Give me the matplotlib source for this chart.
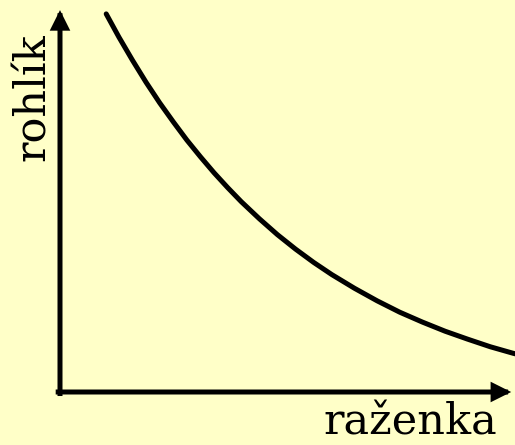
import matplotlib
matplotlib.use("Agg")
import matplotlib.pyplot as plt

# Data
curve_x = [1.02, 1.3, 1.6, 1.9, 2.2, 2.5, 2.8, 3.1, 3.4, 3.7, 4.0, 4.4, 4.8,
           5.2, 5.6, 6.0, 6.5, 7.0, 7.5, 8.0, 8.5, 9.0, 9.5, 10.0, 10.4]
curve_y = [9.95, 9.34, 8.73, 8.15, 7.61, 7.11, 6.63, 6.19, 5.77, 5.38, 5.01,
           4.56, 4.14, 3.76, 3.41, 3.09, 2.73, 2.40, 2.10, 1.84, 1.60, 1.39,
           1.19, 1.02, 0.90]
x_label = "raženka"
y_label = "rohlík"
axis_x_end = 9.96
axis_y_end = 10.05

bg = "#FFFFC8"
fig = plt.figure(figsize=(5.15, 4.45), dpi=100, facecolor=bg)
ax = fig.add_axes([0, 0, 1, 1])
ax.set_facecolor(bg)
ax.set_xlim(-60 / 45.3, 455 / 45.3)
ax.set_ylim(-53 / 38.0, 392 / 38.0)
ax.axis("off")

lw = 3.6
arrow = dict(arrowstyle="-|>,head_length=0.6,head_width=0.3",
             mutation_scale=15, lw=lw, color="black",
             shrinkA=0, shrinkB=0, capstyle="projecting", joinstyle="miter")
ax.annotate("", xy=(axis_x_end, 0), xytext=(-0.04, 0), arrowprops=arrow)
ax.annotate("", xy=(0, axis_y_end), xytext=(0, -0.04), arrowprops=arrow)

ax.plot(curve_x, curve_y, color="black", lw=lw, solid_capstyle="round",
        solid_joinstyle="round")

ax.text(9.65, -1.13, x_label, fontsize=31, family="DejaVu Serif",
        ha="right", va="baseline")
ax.text(-0.33, 7.76, y_label, fontsize=31, family="DejaVu Serif",
        rotation=90, rotation_mode="anchor", ha="center", va="baseline")

fig.savefig("out.png", dpi=100, facecolor=bg)
